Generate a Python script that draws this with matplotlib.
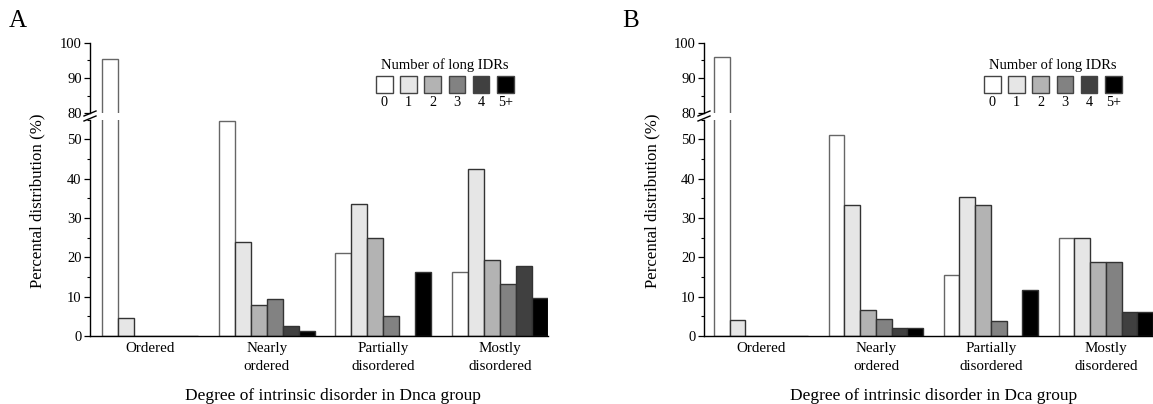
import matplotlib
matplotlib.use("Agg")
import matplotlib.pyplot as plt
from matplotlib.patches import Rectangle
from matplotlib.ticker import MultipleLocator
import numpy as np

plt.rcParams['font.family'] = ['Liberation Serif', 'DejaVu Serif']

categories = ["Ordered", "Nearly\nordered", "Partially\ndisordered", "Mostly\ndisordered"]
idr_labels = ["0", "1", "2", "3", "4", "5+"]
bar_colors = ["#ffffff", "#e6e6e6", "#b3b3b3", "#828282", "#404040", "#000000"]

# values[series][category]  (series = number of long IDRs)
dnca_values = [
    [95.3, 54.7, 21.1, 16.3],   # 0
    [4.6, 24.0, 33.6, 42.4],    # 1
    [0.0, 7.9, 25.0, 19.4],     # 2
    [0.0, 9.3, 5.0, 13.1],      # 3
    [0.0, 2.6, 0.0, 17.8],      # 4
    [0.0, 1.3, 16.2, 9.7],      # 5+
]
dca_values = [
    [96.0, 51.1, 15.6, 25.0],
    [4.0, 33.3, 35.2, 25.0],
    [0.0, 6.6, 33.3, 18.7],
    [0.0, 4.3, 3.9, 18.7],
    [0.0, 2.1, 0.0, 6.2],
    [0.0, 2.1, 11.7, 6.2],
]

W, H = 1153, 404
fig = plt.figure(figsize=(W / 100, H / 100), dpi=100)


def fx(px):
    return px / W


def fy(py):
    return 1 - py / H


def panel(values, left_px, right_px, xlim, letter, letter_x, xlabel, xlabel_x,
          ylabel_x, leg_x0):
    width = (right_px - left_px) / W
    # lower axis: 0..55
    ax_lo = fig.add_axes([fx(left_px), fy(336), width, (336 - 119.5) / H])
    # upper axis: 80..100
    ax_hi = fig.add_axes([fx(left_px), fy(113.3), width, (113.3 - 42.7) / H])
    x = np.arange(len(categories))
    bw = 0.137
    for ax in (ax_lo, ax_hi):
        for i, (vals, col) in enumerate(zip(values, bar_colors)):
            ec = "#666666" if i == 0 else "#333333"
            ax.bar(x + (i - 2.5) * bw, vals, width=bw, color=col,
                   edgecolor=ec, linewidth=1.0, zorder=2)
        ax.set_xlim(*xlim)
        for s in ("top", "right"):
            ax.spines[s].set_visible(False)
        ax.tick_params(axis="y", which="major", length=4, width=0.9,
                       labelsize=10.5, pad=2, direction="out")
        ax.tick_params(axis="y", which="minor", length=2.5, width=0.8)
        ax.yaxis.set_minor_locator(MultipleLocator(5))
    ax_lo.set_ylim(0, 55)
    ax_lo.set_yticks([0, 10, 20, 30, 40, 50])
    ax_hi.set_ylim(80, 100)
    ax_hi.set_yticks([80, 90, 100])
    ax_hi.spines["bottom"].set_visible(False)
    ax_hi.set_xticks([])
    ax_hi.patch.set_alpha(0)
    ax_lo.patch.set_alpha(0)
    ax_lo.set_xticks(x)
    ax_lo.set_xticklabels(categories, fontsize=10.8, linespacing=1.5,
                          va="top")
    ax_lo.tick_params(axis="x", length=0, pad=4)
    for sp in ax_lo.spines.values():
        sp.set_linewidth(1.0)
    for sp in ax_hi.spines.values():
        sp.set_linewidth(1.0)

    # break marks on the left spine
    for yy in (113.5, 118.5):
        fig.add_artist(plt.Line2D([fx(left_px - 6), fx(left_px + 6)],
                                  [fy(yy + 2.5), fy(yy - 2.5)],
                                  color="black", lw=1.0))

    fig.text(fx(letter_x), fy(21), letter, fontsize=18, ha="center", va="center")
    fig.text(fx(xlabel_x), fy(396), xlabel, fontsize=12.5, ha="center", va="center")
    fig.text(fx(ylabel_x), fy(201), "Percental distribution (%)", fontsize=12.2,
             rotation=90, ha="center", va="center")

    # legend
    step = 24.2
    sq = 16.5
    fig.text(fx(leg_x0 + (5 * step + sq) / 2), fy(65), "Number of long IDRs",
             fontsize=10.5, ha="center", va="center")
    for i, (lab, col) in enumerate(zip(idr_labels, bar_colors)):
        x0 = leg_x0 + i * step
        fig.add_artist(Rectangle((fx(x0), fy(93)), sq / W, sq / H,
                                 facecolor=col, edgecolor="#444444",
                                 linewidth=1.0, transform=fig.transFigure))
        fig.text(fx(x0 + sq / 2), fy(102), lab, fontsize=10.2,
                 ha="center", va="center")


panel(dnca_values, 90, 548, (-0.514, 3.41), "A", 18,
      "Degree of intrinsic disorder in Dnca group", 333, 37, 376)
panel(dca_values, 704, 1153, (-0.496, 3.41), "B", 631,
      "Degree of intrinsic disorder in Dca group", 934, 652, 984)

fig.savefig("out.png", dpi=100)
